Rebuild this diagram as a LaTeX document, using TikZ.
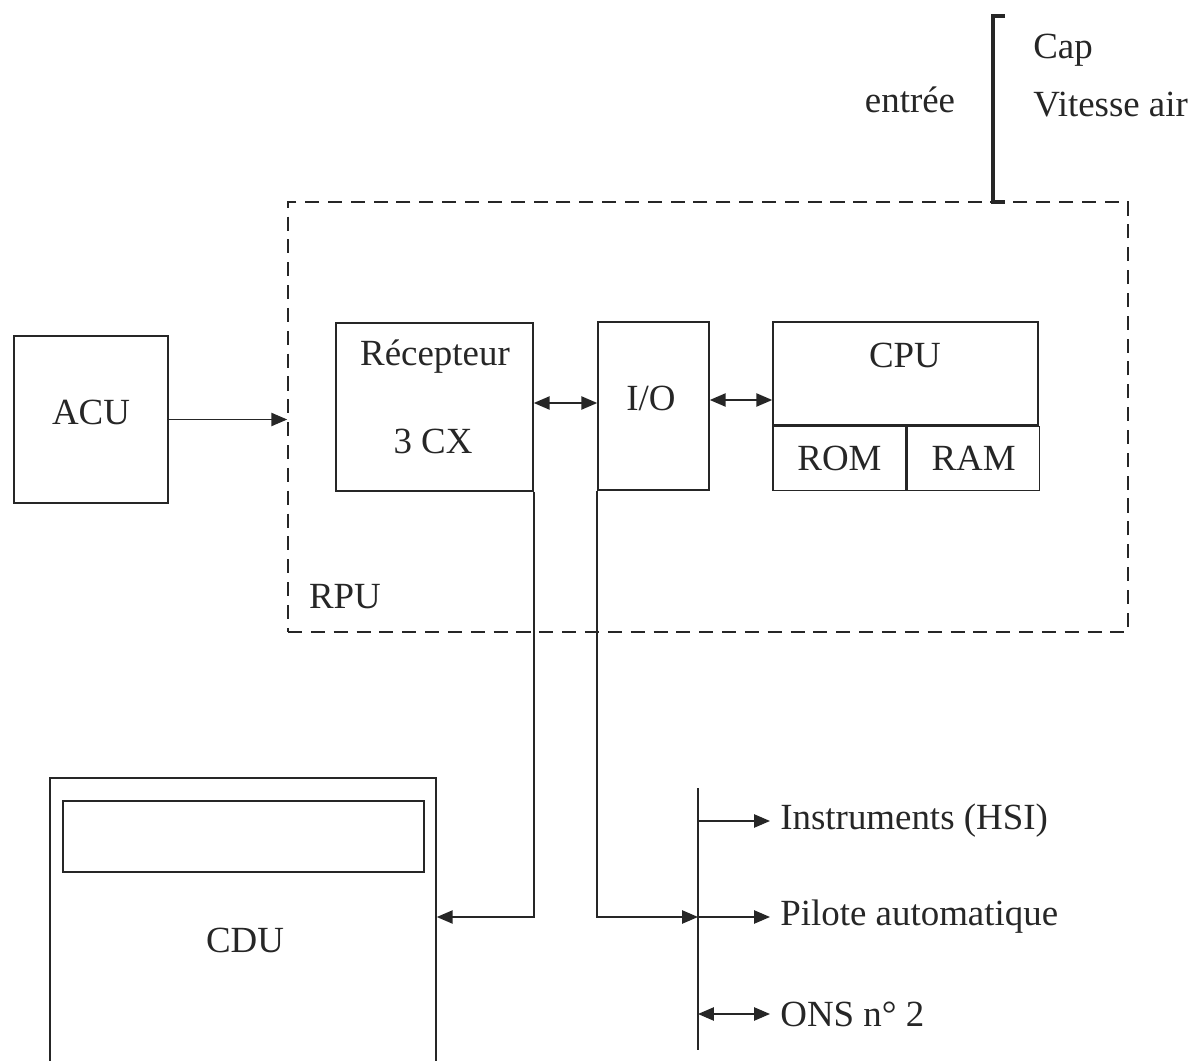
\documentclass[tikz,border=0pt]{standalone}
\usepackage{fontspec}
\setmainfont{Liberation Serif}
\usetikzlibrary{arrows.meta,calc,positioning}
\tikzset{arr/.style={-{Triangle[length=9pt,width=7.5pt]}, line width=0.9pt},
  dbl/.style={{Triangle[length=9pt,width=7.5pt]}-{Triangle[length=9pt,width=7.5pt]}, line width=0.9pt},
  blk/.style={draw, line width=0.9pt, align=center, inner sep=0pt},
  txt/.style={inner sep=0pt}}

\begin{document}
\begin{tikzpicture}[font=\fontsize{21}{25}\selectfont, color=black!85]
  \useasboundingbox (0,0) rectangle (23.86,-21.22);
  % RPU
  \node[blk, dashed, dash pattern=on 8pt off 5pt, minimum width=168mm, minimum height=86mm] (rpu) at (14.16,-8.34) {};
  \node[txt] (rputxt) at (6.9,-11.94) {RPU};
  \node[blk, minimum width=30.8mm, minimum height=33.4mm] (acu) at (1.82,-8.39) {};
  \node[txt] (acutxt) at (1.82,-8.24) {ACU};
  \node[blk, minimum width=39.4mm, minimum height=33.6mm] (rec) at (8.69,-8.14) {};
  \node[txt] (rectxt) at (8.7,-7.14) {Récepteur};
  \node[txt] (cxtxt) at (8.66,-8.82) {3 CX};
  \node[blk, minimum width=22.2mm, minimum height=33.6mm] (io) at (13.07,-8.12) {};
  \node[txt] (iotxt) at (13.02,-7.96) {I/O};
  \node[blk, minimum width=53mm, minimum height=20.6mm] (cpu) at (18.11,-7.47) {};
  \node[txt] (cputxt) at (18.1,-7.1) {CPU};
  \node[blk, minimum width=26.6mm, minimum height=12.8mm, anchor=north west] (rom) at (cpu.south west) {ROM};
  \node[blk, minimum width=26.4mm, minimum height=12.8mm, anchor=north west] (ram) at (rom.north east) {RAM};
  \draw[arr] (acu.east) -- (acu.east -| rpu.west);
  \draw[dbl] ($(rec.east)+(0,0.08)$) -- ($(rec.east -| io.west)+(0,0.08)$);
  \draw[dbl] ($(io.east)+(0,0.12)$) -- ($(io.east -| cpu.west)+(0,0.12)$);
  % entree
  \coordinate (brt) at (19.86,-0.32);
  \coordinate (brb) at (19.86,-4.04);
  \draw[line width=2.2pt] ($(brt)+(0.24,0)$) -- (brt) -- (brb) -- ($(brb)+(0.24,0)$);
  \node[txt] (entree) at (18.2,-2.0) {entrée};
  \node[txt, anchor=west] (cap) at (20.66,-1.0) {Cap};
  \node[txt, anchor=west] (vit) at (20.66,-2.1) {Vitesse air};
  % CDU
  \node[blk, minimum width=77.2mm, minimum height=60mm] (cdu) at (4.86,-18.56) {};
  \node[blk, minimum width=72.2mm, minimum height=14.2mm] (ecran) at (4.87,-16.73) {};
  \node[txt] (cdutxt) at (4.9,-18.8) {CDU};
  % bus
  \coordinate (bust) at (13.96,-15.76);
  \coordinate (busb) at (13.96,-21.0);
  \draw[line width=0.9pt] (bust) -- (busb);
  \coordinate (pil) at (13.96,-18.34);
  \draw[arr] (rec.south east) |- (pil -| cdu.east);
  \draw[arr] (io.south west) |- (pil);
  \node[txt, anchor=west] (hsi) at (15.6,-16.42) {Instruments (HSI)};
  \node[txt, anchor=west] (pa) at (15.6,-18.34) {Pilote automatique};
  \node[txt, anchor=west] (ons) at (15.6,-20.28) {ONS n° 2};
  \draw[arr] (hsi.west -| bust) -- ($(hsi.west)+(-0.2,0)$);
  \draw[arr] (pil) -- ($(pa.west)+(-0.2,0)$);
  \draw[dbl] (ons.west -| bust) -- ($(ons.west)+(-0.2,0)$);
\end{tikzpicture}
\end{document}
